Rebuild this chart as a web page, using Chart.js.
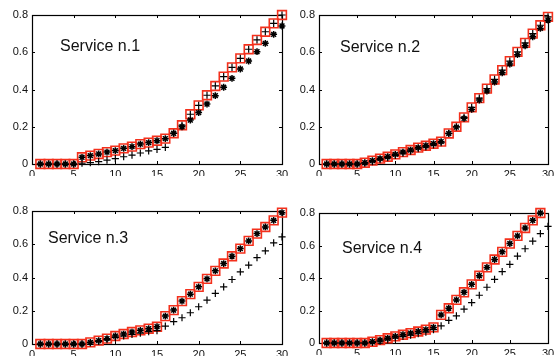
<!DOCTYPE html>
<html>
<head>
<meta charset="utf-8">
<script src="https://cdn.jsdelivr.net/npm/chart.js@4.4.1/dist/chart.umd.min.js"></script>
<style>
  html, body { margin: 0; padding: 0; background: #fff; }
  #wrap { position: relative; width: 555px; height: 358px; }
  canvas { position: absolute; left: 0; top: 0; }
</style>
</head>
<body>
<div id="wrap">
  <canvas id="c1" width="555" height="358"></canvas>
  <canvas id="c2" width="555" height="358"></canvas>
  <canvas id="c3" width="555" height="358"></canvas>
  <canvas id="c4" width="555" height="358"></canvas>
</div>
<script>
const steps = [1,2,3,4,5,6,7,8,9,10,11,12,13,14,15,16,17,18,19,20,21,22,23,24,25,26,27,28,29,30];
const xTicks = [0, 5, 10, 15, 20, 25, 30];
const yTicks = [0, 0.2, 0.4, 0.6, 0.8];
const titles = ["Service n.1", "Service n.2", "Service n.3", "Service n.4"];

// service 1
const square1 = [0,0,0,0,0,0.036,0.045,0.054,0.064,0.072,0.084,0.093,0.107,0.115,0.125,0.136,0.165,0.208,0.267,0.315,0.369,0.419,0.469,0.519,0.567,0.616,0.666,0.71,0.755,0.8];
const star1   = [0,0,0,0,0,0.036,0.045,0.054,0.064,0.072,0.084,0.093,0.107,0.115,0.125,0.136,0.165,0.2,0.236,0.276,0.322,0.367,0.412,0.46,0.51,0.553,0.603,0.648,0.696,0.741];
const plus1   = [0,0,0,0,0,0.004,0.007,0.013,0.021,0.029,0.039,0.048,0.059,0.07,0.079,0.089,0.165,0.208,0.267,0.315,0.369,0.419,0.469,0.519,0.567,0.616,0.666,0.71,0.755,0.8];

// service 2
const square2 = [0,0,0,0,0,0.007,0.018,0.029,0.039,0.052,0.064,0.075,0.088,0.098,0.109,0.12,0.164,0.2,0.25,0.304,0.354,0.405,0.454,0.504,0.552,0.602,0.65,0.7,0.745,0.79];
const star2   = [0,0,0,0,0,0.007,0.018,0.029,0.039,0.052,0.064,0.075,0.088,0.098,0.109,0.12,0.164,0.198,0.245,0.293,0.343,0.392,0.44,0.49,0.537,0.587,0.635,0.683,0.728,0.772];
const plus2   = [0,0,0,0,0,0.004,0.013,0.024,0.034,0.046,0.058,0.069,0.082,0.092,0.103,0.114,0.164,0.2,0.25,0.304,0.354,0.405,0.454,0.504,0.552,0.602,0.65,0.7,0.745,0.79];

// service 3
const square3 = [0,0,0,0,0,0,0.01,0.02,0.032,0.048,0.06,0.072,0.082,0.092,0.104,0.168,0.204,0.258,0.3,0.344,0.392,0.44,0.484,0.528,0.574,0.62,0.664,0.704,0.744,0.79];
const star3   = [0,0,0,0,0,0,0.01,0.02,0.032,0.048,0.06,0.072,0.082,0.092,0.104,0.168,0.204,0.258,0.3,0.344,0.392,0.44,0.484,0.528,0.574,0.62,0.664,0.704,0.744,0.79];
const plus3   = [0,0,0,0,0,0,0.006,0.016,0.026,0.04,0.048,0.058,0.066,0.074,0.08,0.108,0.134,0.158,0.188,0.224,0.264,0.304,0.344,0.388,0.434,0.474,0.52,0.56,0.608,0.644];

// service 4 (last square / star is above the axis top, so it is not drawn)
const square4 = [0,0,0,0,0,0,0.008,0.018,0.029,0.041,0.051,0.061,0.071,0.082,0.096,0.173,0.214,0.265,0.312,0.361,0.414,0.465,0.514,0.561,0.612,0.659,0.708,0.755,0.8,0.85];
const star4   = [0,0,0,0,0,0,0.008,0.018,0.029,0.041,0.051,0.061,0.071,0.082,0.096,0.173,0.214,0.265,0.312,0.361,0.414,0.465,0.514,0.561,0.612,0.659,0.708,0.755,0.8,0.85];
const plus4   = [0,0,0,0,0,0,0.004,0.012,0.02,0.031,0.041,0.049,0.057,0.067,0.082,0.106,0.139,0.167,0.208,0.249,0.294,0.343,0.392,0.439,0.484,0.535,0.58,0.627,0.673,0.718];

const FONT = "'Liberation Sans', Arial, Helvetica, sans-serif";
const RED = "rgb(244,48,28)";

const toPoints = (vals) => vals.map((v, i) => ({ x: steps[i], y: v }));

// draws the matlab style box with inward ticks, and the title inside the axes
const boxPlugin = {
  id: "box",
  beforeDatasetsDraw(chart, args, opts) {
    const { ctx, chartArea: a, scales } = chart;
    const xs = scales.x, ys = scales.y;
    ctx.save();
    ctx.strokeStyle = "#000";
    ctx.lineWidth = 1.2;
    ctx.strokeRect(a.left + 0.5, a.top + 0.5, a.right - a.left, a.bottom - a.top);
    ctx.lineWidth = 1;
    ctx.beginPath();
    xTicks.forEach(v => {
      const px = Math.round(xs.getPixelForValue(v)) + 0.5;
      ctx.moveTo(px, a.bottom); ctx.lineTo(px, a.bottom - 3);
      ctx.moveTo(px, a.top); ctx.lineTo(px, a.top + 3);
    });
    yTicks.forEach(v => {
      const py = Math.round(ys.getPixelForValue(v)) + 0.5;
      ctx.moveTo(a.left, py); ctx.lineTo(a.left + 3, py);
      ctx.moveTo(a.right, py); ctx.lineTo(a.right - 3, py);
    });
    ctx.stroke();
    ctx.fillStyle = "#111";
    ctx.font = "16px " + FONT;
    ctx.textBaseline = "alphabetic";
    ctx.fillText(opts.text, a.left + opts.dx, a.top + opts.dy);
    ctx.restore();
  }
};

function makeChart(id, title, plus, star, square, area, titleOffset) {
  new Chart(document.getElementById(id), {
    type: "scatter",
    data: {
      datasets: [
        { label: "plus", data: toPoints(plus), pointStyle: "cross", radius: 3.6,
          borderColor: "#000", borderWidth: 1.2, clip: false },
        { label: "star", data: toPoints(star), pointStyle: "star", radius: 3.4,
          borderColor: "#000", borderWidth: 1.5, clip: false },
        { label: "square", data: toPoints(square), pointStyle: "rect", radius: 6.2,
          borderColor: RED, backgroundColor: "rgba(0,0,0,0)", borderWidth: 1.6, clip: false }
      ]
    },
    options: {
      responsive: false,
      animation: false,
      events: [],
      layout: {
        autoPadding: false,
        padding: { left: area.left - 30, top: area.top, right: 555 - area.right, bottom: 358 - area.bottom - 12 }
      },
      plugins: {
        legend: { display: false },
        tooltip: { enabled: false },
        box: { text: title, dx: titleOffset[0], dy: titleOffset[1] }
      },
      scales: {
        x: {
          type: "linear", min: 0, max: 30,
          grid: { display: false, drawTicks: false },
          border: { display: false },
          afterBuildTicks: (s) => { s.ticks = xTicks.map(v => ({ value: v })); },
          afterFit: (s) => { s.height = 12; s.paddingLeft = 0; s.paddingRight = 0; },
          ticks: { padding: 4, color: "#111", font: { family: FONT, size: 11 }, maxRotation: 0, autoSkip: false }
        },
        y: {
          type: "linear", min: 0, max: 0.8,
          grid: { display: false, drawTicks: false },
          border: { display: false },
          afterBuildTicks: (s) => { s.ticks = yTicks.map(v => ({ value: v })); },
          afterFit: (s) => { s.width = 30; s.paddingTop = 0; s.paddingBottom = 0; },
          ticks: { padding: 4, color: "#111", font: { family: FONT, size: 11 },
            callback: (v) => String(Math.round(v * 10) / 10) }
        }
      }
    },
    plugins: [boxPlugin]
  });
}

makeChart("c1", titles[0], plus1, star1, square1, { left: 32, top: 15, right: 282, bottom: 164 }, [28, 36]);
makeChart("c2", titles[1], plus2, star2, square2, { left: 319, top: 15, right: 548, bottom: 164 }, [21, 37]);
makeChart("c3", titles[2], plus3, star3, square3, { left: 32, top: 211, right: 282, bottom: 344 }, [16, 31.5]);
makeChart("c4", titles[3], plus4, star4, square4, { left: 319, top: 213, right: 548, bottom: 343 }, [23, 39.5]);
</script>
</body>
</html>
